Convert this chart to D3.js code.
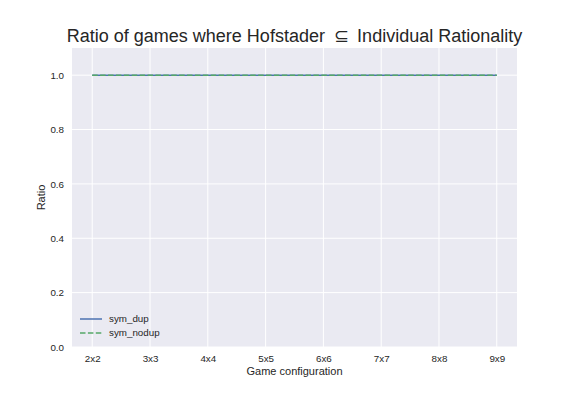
<!DOCTYPE html>
<html>
<head>
<meta charset="utf-8">
<script src="https://cdn.jsdelivr.net/npm/d3@7"></script>
<style>
  body { margin: 0; background: #fff; }
  text { font-family: "Liberation Sans", Arial, sans-serif; fill: #262626; }
</style>
</head>
<body>
<script>
// game sizes along the x axis
var configs = ["2x2", "3x3", "4x4", "5x5", "6x6", "7x7", "8x8", "9x9"];
var symDup = [1, 1, 1, 1, 1, 1, 1, 1];
var symNodup = [1, 1, 1, 1, 1, 1, 1, 1];
var yTicks = [0.0, 0.2, 0.4, 0.6, 0.8, 1.0];

var width = 576, height = 396;
var margin = {top: 48, right: 59, bottom: 49, left: 72};

var svg = d3.select(document.body).append("svg")
    .attr("width", width)
    .attr("height", height);

var x = d3.scaleLinear()
    .domain([-0.35, configs.length - 1 + 0.35])
    .range([margin.left, width - margin.right]);

var y = d3.scaleLinear()
    .domain([0, 1.1])
    .range([height - margin.bottom, margin.top]);

// background
svg.append("rect")
    .attr("x", margin.left)
    .attr("y", margin.top)
    .attr("width", width - margin.left - margin.right)
    .attr("height", height - margin.top - margin.bottom)
    .attr("fill", "#EAEAF2");

// grid
svg.append("g")
    .selectAll("line")
    .data(configs)
    .join("line")
    .attr("x1", (d, i) => x(i))
    .attr("x2", (d, i) => x(i))
    .attr("y1", margin.top)
    .attr("y2", height - margin.bottom)
    .attr("stroke", "#fff")
    .attr("stroke-width", 1);

svg.append("g")
    .selectAll("line")
    .data(yTicks)
    .join("line")
    .attr("x1", margin.left)
    .attr("x2", width - margin.right)
    .attr("y1", d => y(d))
    .attr("y2", d => y(d))
    .attr("stroke", "#fff")
    .attr("stroke-width", 1);

// axes (ticks only, no domain line)
var xAxis = d3.axisBottom(x)
    .tickValues(d3.range(configs.length))
    .tickFormat(i => configs[i])
    .tickSize(0)
    .tickPadding(8);

var yAxis = d3.axisLeft(y)
    .tickValues(yTicks)
    .tickFormat(d3.format(".1f"))
    .tickSize(0)
    .tickPadding(8);

svg.append("g")
    .attr("transform", "translate(0," + (height - margin.bottom) + ")")
    .call(xAxis)
    .call(g => g.select(".domain").remove())
    .selectAll("text")
    .attr("font-size", 9.8)
    .attr("font-family", "Liberation Sans, Arial, sans-serif")
    .attr("fill", "#262626");

svg.append("g")
    .attr("transform", "translate(" + margin.left + ",0)")
    .call(yAxis)
    .call(g => g.select(".domain").remove())
    .selectAll("text")
    .attr("font-size", 9.8)
    .attr("font-family", "Liberation Sans, Arial, sans-serif")
    .attr("fill", "#262626");

// lines
var line = d3.line()
    .x((d, i) => x(i))
    .y(d => y(d));

svg.append("path")
    .datum(symDup)
    .attr("d", line)
    .attr("fill", "none")
    .attr("stroke", "#4C72B0")
    .attr("stroke-width", 1.5);

svg.append("path")
    .datum(symNodup)
    .attr("d", line)
    .attr("fill", "none")
    .attr("stroke", "#55A868")
    .attr("stroke-width", 1.5)
    .attr("stroke-dasharray", "5.5,2.4");

// title and labels
svg.append("text")
    .attr("x", (margin.left + width - margin.right) / 2)
    .attr("y", 42)
    .attr("text-anchor", "middle")
    .attr("font-size", 18)
    .text("Ratio of games where Hofstader \u2009\u2286\u2009 Individual Rationality");

svg.append("text")
    .attr("x", (margin.left + width - margin.right) / 2)
    .attr("y", 375)
    .attr("text-anchor", "middle")
    .attr("font-size", 11)
    .text("Game configuration");

svg.append("text")
    .attr("transform", "translate(45," + ((margin.top + height - margin.bottom) / 2) + ") rotate(-90)")
    .attr("text-anchor", "middle")
    .attr("font-size", 11)
    .text("Ratio");

// legend
var legend = [
    {name: "sym_dup", color: "#4C72B0", dash: null},
    {name: "sym_nodup", color: "#55A868", dash: "5.5,2.4"}
];

var lg = svg.append("g")
    .attr("transform", "translate(80,319)");

lg.selectAll("line")
    .data(legend)
    .join("line")
    .attr("x1", 0)
    .attr("x2", 22)
    .attr("y1", (d, i) => i * 14)
    .attr("y2", (d, i) => i * 14)
    .attr("stroke", d => d.color)
    .attr("stroke-width", 1.5)
    .attr("stroke-dasharray", d => d.dash);

lg.selectAll("text")
    .data(legend)
    .join("text")
    .attr("x", 29)
    .attr("y", (d, i) => i * 14)
    .attr("dy", "0.35em")
    .attr("font-size", 9.8)
    .text(d => d.name);
</script>
</body>
</html>
